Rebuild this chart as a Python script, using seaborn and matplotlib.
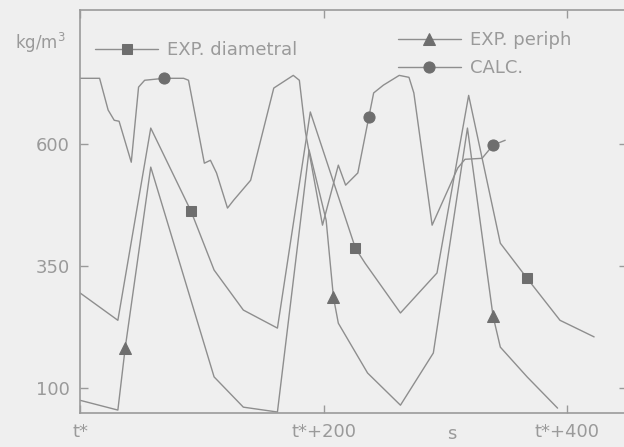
import pandas as pd
import matplotlib
matplotlib.use("Agg")
import matplotlib.pyplot as plt
import seaborn as sns

# densidad (kg/m3) frente al tiempo desde t* (s)
calc_t = [0, 16, 23, 28, 32, 42, 48, 53, 69, 85, 89, 102, 107, 112, 121, 126, 140,
          159, 175, 180, 185, 199, 212, 218, 228, 237, 241, 249, 262, 270, 274,
          289, 310, 316, 330, 339, 349]
calc_rho = [735, 735, 670, 649, 647, 563, 717, 731, 735, 735, 731, 561, 567, 541,
            469, 485, 526, 715, 741, 731, 625, 434, 557, 516, 541, 655, 705, 721,
            741, 737, 705, 434, 551, 569, 571, 598, 608]
calc_marks = [8, 25, 35]

diam_t = [0, 31, 58, 91, 110, 134, 162, 189, 226, 234, 263, 293, 319, 345, 367, 394, 422]
diam_rho = [295, 239, 633, 463, 342, 260, 223, 666, 387, 356, 254, 336, 700, 397, 325, 239, 205]
diam_marks = [3, 8, 14]

peri_t = [0, 31, 37, 58, 110, 134, 162, 188, 202, 208, 212, 236, 263, 290, 318, 339, 345, 367, 392]
peri_rho = [75, 55, 182, 553, 123, 61, 51, 588, 444, 286, 233, 131, 65, 172, 633, 248, 184, 123, 59]
peri_marks = [2, 9, 15]

x_ticks = [0, 200, 400]
x_labels = ["t*", "t*+200", "t*+400"]
y_ticks = [100, 350, 600]

BG = "#efefef"
LINE = "#8e8e8e"
MARK = "#6e6e6e"
TXT = "#9a9a9a"

sns.set_theme(style="ticks")
plt.rcParams["font.family"] = ["DejaVu Sans"]

fig = plt.figure(figsize=(6.24, 4.47), dpi=100, facecolor=BG)
ax = fig.add_axes([79.5 / 624, 34 / 447, 547.5 / 624, 403 / 447], facecolor=BG)

series = [
    (diam_t, diam_rho, diam_marks, "s", 7.5, "EXP. diametral"),
    (peri_t, peri_rho, peri_marks, "^", 9, "EXP. periph"),
    (calc_t, calc_rho, calc_marks, "o", 8, "CALC."),
]
for t, rho, marks, mk, ms, name in series:
    df = pd.DataFrame({"t": t, "rho": rho})
    sns.lineplot(data=df, x="t", y="rho", ax=ax, color=LINE, linewidth=1.0,
                 marker=mk, markevery=marks, markersize=ms,
                 markerfacecolor=MARK, markeredgecolor=MARK,
                 estimator=None, sort=False, label=name)

ax.set_xlim(-0.5, 449)
ax.set_ylim(49, 875)
ax.set_xticks(x_ticks)
ax.set_xticklabels(x_labels)
ax.set_yticks(y_ticks)
ax.tick_params(direction="in", top=True, right=True, length=6, width=1,
               color="#9a9a9a", labelcolor=TXT, labelsize=13, pad=7)

for side in ["left", "bottom", "top"]:
    ax.spines[side].set_color("#9a9a9a")
    ax.spines[side].set_linewidth(1.2)
ax.spines["right"].set_visible(False)

ax.set_xlabel("s", color=TXT, fontsize=13)
ax.xaxis.set_label_coords(0.68, -0.03)
ax.set_ylabel("kg/m$^3$", color=TXT, fontsize=12, rotation=0, ha="center", va="center")
ax.yaxis.set_label_coords(-0.072, 0.918)

h, l = ax.get_legend_handles_labels()
leg1 = ax.legend([h[0]], [l[0]], loc="upper left", bbox_to_anchor=(0.012, 0.945),
                 frameon=False, fontsize=13, handlelength=3.5, handletextpad=0.5,
                 borderpad=0, numpoints=1, labelcolor=TXT)
ax.add_artist(leg1)
ax.legend(h[1:], l[1:], loc="upper left", bbox_to_anchor=(0.565, 0.97),
          frameon=False, fontsize=13, handlelength=3.5, handletextpad=0.5,
          borderpad=0, labelspacing=0.55, numpoints=1, labelcolor=TXT)

fig.savefig("out.png", dpi=100, facecolor=BG)
